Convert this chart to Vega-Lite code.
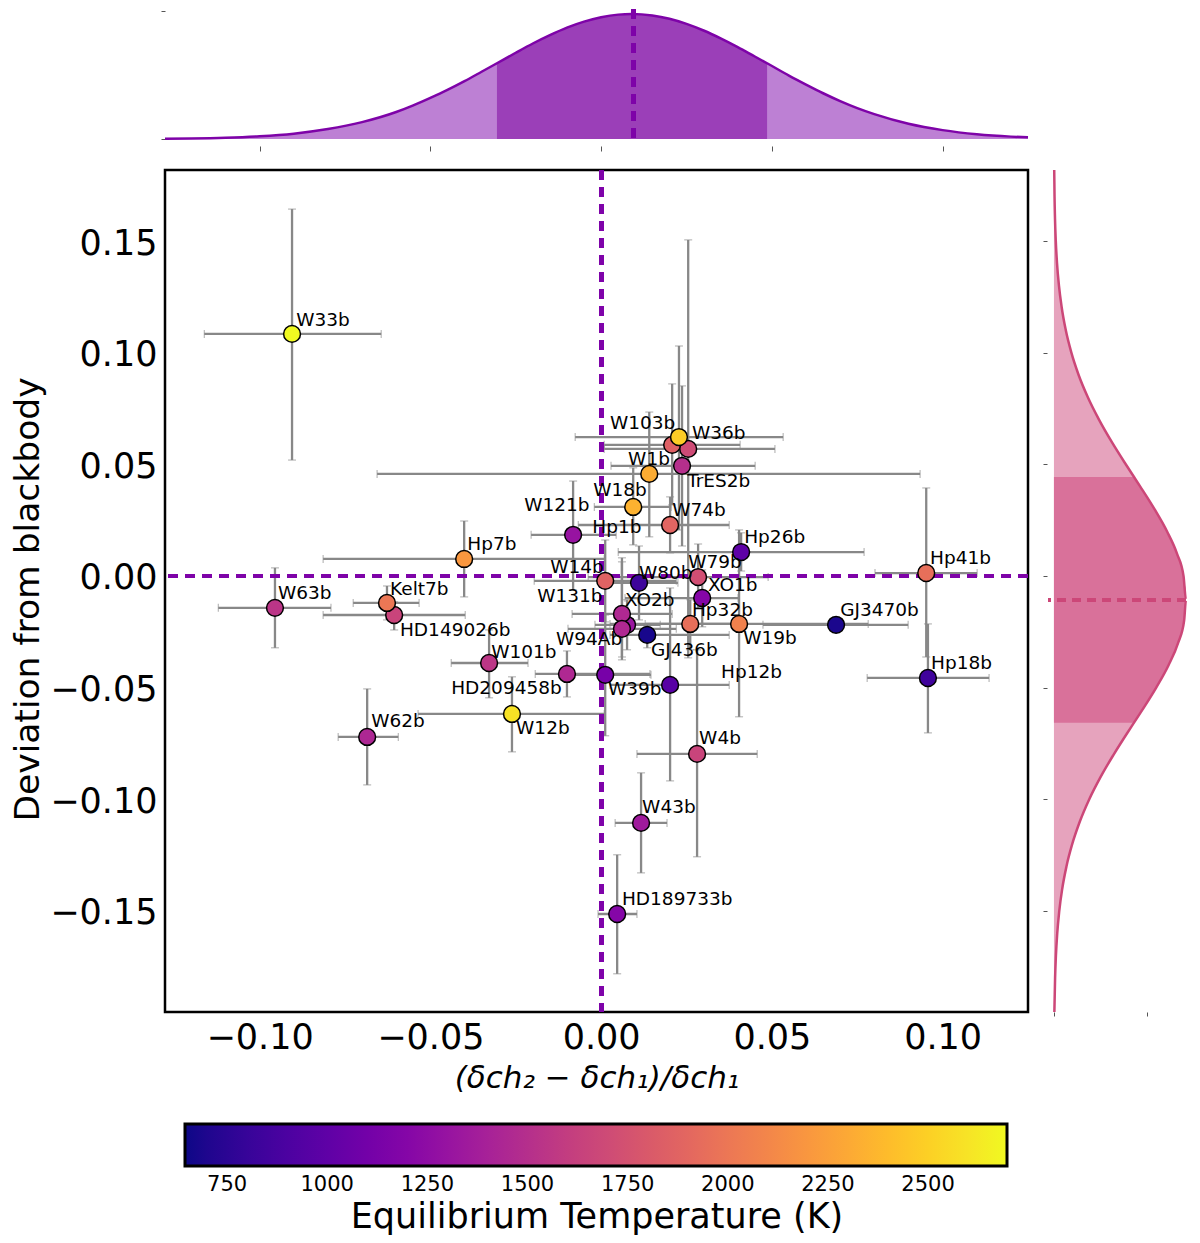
{
  "$schema": "https://vega.github.io/schema/vega-lite/v6.json",
  "background": "white",
  "padding": {"left": 9, "top": 7, "right": 5, "bottom": 5},
  "config": {"font": "DejaVu Sans"},
  "datasets": {
    "planets": [
      {"name":"W33b","x":-0.0905,"x_lo":-0.1162,"x_hi":-0.0644,"y":0.1084,"y_lo":0.0519,"y_hi":0.1643,"temp":2695,"label_x":-0.0893,"label_y":0.1146},
      {"name":"W94Ab","x":0.0208,"x_lo":0.0009,"x_hi":0.0407,"y":0.0587,"y_lo":0.0318,"y_hi":0.0860,"temp":1850,"label_x":-0.0132,"label_y":-0.0282},
      {"name":"W36b","x":0.0255,"x_lo":0.0009,"x_hi":0.0509,"y":0.0569,"y_lo":-0.0367,"y_hi":0.1505,"temp":1700,"label_x":0.0266,"label_y":0.0640},
      {"name":"W103b","x":0.0228,"x_lo":-0.0076,"x_hi":0.0533,"y":0.0622,"y_lo":0.0206,"y_hi":0.1030,"temp":2480,"label_x":0.0026,"label_y":0.0685},
      {"name":"TrES2b","x":0.0237,"x_lo":0.0029,"x_hi":0.0451,"y":0.0493,"y_lo":0.0134,"y_hi":0.0851,"temp":1500,"label_x":0.0252,"label_y":0.0425},
      {"name":"W1b","x":0.0141,"x_lo":-0.0656,"x_hi":0.0934,"y":0.0457,"y_lo":0.0175,"y_hi":0.0734,"temp":2320,"label_x":0.0079,"label_y":0.0524},
      {"name":"W18b","x":0.0094,"x_lo":-0.0020,"x_hi":0.0205,"y":0.0309,"y_lo":0.0139,"y_hi":0.0484,"temp":2350,"label_x":-0.0023,"label_y":0.0385},
      {"name":"W74b","x":0.0202,"x_lo":-0.0067,"x_hi":0.0375,"y":0.0228,"y_lo":0.0103,"y_hi":0.0354,"temp":1880,"label_x":0.0208,"label_y":0.0296},
      {"name":"W121b","x":-0.0082,"x_lo":-0.0205,"x_hi":0.0044,"y":0.0184,"y_lo":-0.0063,"y_hi":0.0425,"temp":1300,"label_x":-0.0225,"label_y":0.0318},
      {"name":"Hp26b","x":0.0410,"x_lo":0.0050,"x_hi":0.0770,"y":0.0107,"y_lo":0.0022,"y_hi":0.0193,"temp":990,"label_x":0.0419,"label_y":0.0175},
      {"name":"Hp7b","x":-0.0401,"x_lo":-0.0814,"x_hi":0.0009,"y":0.0076,"y_lo":-0.0094,"y_hi":0.0246,"temp":2200,"label_x":-0.0392,"label_y":0.0143},
      {"name":"W14b","x":0.0012,"x_lo":-0.0196,"x_hi":0.0220,"y":-0.0022,"y_lo":-0.0206,"y_hi":0.0161,"temp":1870,"label_x":-0.0149,"label_y":0.0040},
      {"name":"W80b","x":0.0111,"x_lo":-0.0003,"x_hi":0.0225,"y":-0.0031,"y_lo":-0.0197,"y_hi":0.0134,"temp":830,"label_x":0.0111,"label_y":0.0013},
      {"name":"Hp1b","x":0.0076,"x_lo":-0.0018,"x_hi":0.0173,"y":-0.0219,"y_lo":-0.0331,"y_hi":-0.0107,"temp":1320,"label_x":-0.0026,"label_y":0.0219},
      {"name":"W131b","x":0.0061,"x_lo":-0.0085,"x_hi":0.0208,"y":-0.0170,"y_lo":-0.0376,"y_hi":0.0063,"temp":1450,"label_x":-0.0187,"label_y":-0.0090},
      {"name":"XO2b","x":0.0061,"x_lo":-0.0097,"x_hi":0.0220,"y":-0.0237,"y_lo":-0.0363,"y_hi":0.0081,"temp":1450,"label_x":0.0070,"label_y":-0.0107},
      {"name":"XO1b","x":0.0296,"x_lo":0.0070,"x_hi":0.0401,"y":-0.0099,"y_lo":-0.0228,"y_hi":0.0027,"temp":1200,"label_x":0.0313,"label_y":-0.0040},
      {"name":"W79b","x":0.0284,"x_lo":-0.0038,"x_hi":0.0489,"y":-0.0005,"y_lo":-0.0143,"y_hi":0.0143,"temp":1720,"label_x":0.0255,"label_y":0.0063},
      {"name":"Hp32b","x":0.0261,"x_lo":0.0129,"x_hi":0.0392,"y":-0.0215,"y_lo":-0.0331,"y_hi":-0.0107,"temp":1950,"label_x":0.0266,"label_y":-0.0152},
      {"name":"W19b","x":0.0404,"x_lo":0.0026,"x_hi":0.0782,"y":-0.0215,"y_lo":-0.0631,"y_hi":0.0206,"temp":2070,"label_x":0.0416,"label_y":-0.0278},
      {"name":"GJ3470b","x":0.0688,"x_lo":0.0474,"x_hi":0.0899,"y":-0.0219,"y_lo":-0.0255,"y_hi":-0.0184,"temp":690,"label_x":0.0700,"label_y":-0.0152},
      {"name":"GJ436b","x":0.0135,"x_lo":0.0026,"x_hi":0.0375,"y":-0.0264,"y_lo":-0.0322,"y_hi":-0.0219,"temp":680,"label_x":0.0146,"label_y":-0.0331},
      {"name":"W39b","x":0.0012,"x_lo":-0.0100,"x_hi":0.0146,"y":-0.0443,"y_lo":-0.0716,"y_hi":-0.0175,"temp":1120,"label_x":0.0020,"label_y":-0.0506},
      {"name":"Hp12b","x":0.0202,"x_lo":0.0026,"x_hi":0.0375,"y":-0.0488,"y_lo":-0.0918,"y_hi":-0.0054,"temp":960,"label_x":0.0351,"label_y":-0.0430},
      {"name":"W4b","x":0.0281,"x_lo":0.0105,"x_hi":0.0457,"y":-0.0797,"y_lo":-0.1258,"y_hi":-0.0331,"temp":1650,"label_x":0.0287,"label_y":-0.0725},
      {"name":"Hp18b","x":0.0957,"x_lo":0.0779,"x_hi":0.1136,"y":-0.0457,"y_lo":-0.0703,"y_hi":-0.0215,"temp":840,"label_x":0.0966,"label_y":-0.0390},
      {"name":"Hp41b","x":0.0952,"x_lo":0.0802,"x_hi":0.1101,"y":0.0013,"y_lo":-0.0363,"y_hi":0.0394,"temp":1950,"label_x":0.0963,"label_y":0.0081},
      {"name":"W43b","x":0.0117,"x_lo":0.0041,"x_hi":0.0193,"y":-0.1106,"y_lo":-0.1330,"y_hi":-0.0882,"temp":1350,"label_x":0.0120,"label_y":-0.1034},
      {"name":"HD189733b","x":0.0047,"x_lo":-0.0009,"x_hi":0.0105,"y":-0.1514,"y_lo":-0.1782,"y_hi":-0.1249,"temp":1200,"label_x":0.0061,"label_y":-0.1446},
      {"name":"W63b","x":-0.0955,"x_lo":-0.1121,"x_hi":-0.0791,"y":-0.0143,"y_lo":-0.0322,"y_hi":0.0036,"temp":1540,"label_x":-0.0946,"label_y":-0.0076},
      {"name":"HD149026b","x":-0.0606,"x_lo":-0.0814,"x_hi":-0.0398,"y":-0.0175,"y_lo":-0.0242,"y_hi":-0.0116,"temp":1650,"label_x":-0.0589,"label_y":-0.0242},
      {"name":"Kelt7b","x":-0.0627,"x_lo":-0.0726,"x_hi":-0.0533,"y":-0.0121,"y_lo":-0.0197,"y_hi":-0.0045,"temp":2000,"label_x":-0.0618,"label_y":-0.0058},
      {"name":"W101b","x":-0.0328,"x_lo":-0.0439,"x_hi":-0.0214,"y":-0.0390,"y_lo":-0.0546,"y_hi":-0.0242,"temp":1550,"label_x":-0.0322,"label_y":-0.0340},
      {"name":"HD209458b","x":-0.0100,"x_lo":-0.0193,"x_hi":0.0143,"y":-0.0439,"y_lo":-0.0542,"y_hi":-0.0336,"temp":1450,"label_x":-0.0439,"label_y":-0.0502},
      {"name":"W12b","x":-0.0261,"x_lo":-0.0536,"x_hi":0.0009,"y":-0.0618,"y_lo":-0.0788,"y_hi":-0.0452,"temp":2590,"label_x":-0.0249,"label_y":-0.0681},
      {"name":"W62b","x":-0.0685,"x_lo":-0.0770,"x_hi":-0.0594,"y":-0.0721,"y_lo":-0.0936,"y_hi":-0.0506,"temp":1440,"label_x":-0.0673,"label_y":-0.0649}
    ],
    "top_curve": [
      {"x":-0.1277,"density":0.0027},{"x":-0.12,"density":0.0048},{"x":-0.11,"density":0.0107},{"x":-0.10,"density":0.0222},
      {"x":-0.09,"density":0.0429},{"x":-0.08,"density":0.0794},{"x":-0.07,"density":0.135},{"x":-0.06,"density":0.216},
      {"x":-0.055,"density":0.269},{"x":-0.05,"density":0.329},{"x":-0.045,"density":0.393},{"x":-0.04,"density":0.463},
      {"x":-0.035,"density":0.538},{"x":-0.0305,"density":0.606},{"x":-0.025,"density":0.69},{"x":-0.02,"density":0.764},
      {"x":-0.015,"density":0.831},{"x":-0.01,"density":0.891},{"x":-0.005,"density":0.939},{"x":0,"density":0.974},
      {"x":0.005,"density":0.995},{"x":0.009,"density":1},{"x":0.015,"density":0.988},{"x":0.02,"density":0.962},
      {"x":0.025,"density":0.921},{"x":0.03,"density":0.868},{"x":0.035,"density":0.805},{"x":0.04,"density":0.735},
      {"x":0.045,"density":0.66},{"x":0.0486,"density":0.606},{"x":0.055,"density":0.507},{"x":0.06,"density":0.435},
      {"x":0.065,"density":0.366},{"x":0.07,"density":0.303},{"x":0.075,"density":0.247},{"x":0.08,"density":0.199},
      {"x":0.09,"density":0.122},{"x":0.10,"density":0.071},{"x":0.11,"density":0.038},{"x":0.12,"density":0.019},
      {"x":0.125,"density":0.0133}
    ],
    "right_curve": [
      {"y":0.1818,"density":0.0021},{"y":0.17,"density":0.0045},{"y":0.16,"density":0.0081},{"y":0.15,"density":0.014},
      {"y":0.14,"density":0.0234},{"y":0.13,"density":0.038},{"y":0.12,"density":0.0594},{"y":0.11,"density":0.0899},
      {"y":0.10,"density":0.1319},{"y":0.09,"density":0.187},{"y":0.08,"density":0.2567},{"y":0.07,"density":0.341},
      {"y":0.06,"density":0.4377},{"y":0.05,"density":0.5437},{"y":0.0443,"density":0.6065},{"y":0.04,"density":0.6537},
      {"y":0.03,"density":0.7604},{"y":0.02,"density":0.8558},{"y":0.01,"density":0.9317},{"y":0,"density":0.9812},
      {"y":-0.0107,"density":1},{"y":-0.02,"density":0.9858},{"y":-0.03,"density":0.9403},{"y":-0.04,"density":0.8677},
      {"y":-0.05,"density":0.7745},{"y":-0.06,"density":0.6692},{"y":-0.0657,"density":0.6065},{"y":-0.07,"density":0.559},
      {"y":-0.08,"density":0.4522},{"y":-0.09,"density":0.3536},{"y":-0.10,"density":0.2675},{"y":-0.11,"density":0.1961},
      {"y":-0.12,"density":0.1389},{"y":-0.13,"density":0.0951},{"y":-0.14,"density":0.0631},{"y":-0.15,"density":0.0404},
      {"y":-0.16,"density":0.0251},{"y":-0.17,"density":0.0151},{"y":-0.18,"density":0.0088},{"y":-0.1953,"density":0.0033}
    ]
  },
  "vconcat": [
    {
      "width": 863,
      "height": 136,
      "view": {"stroke": null},
      "data": {"name": "top_curve"},
      "layer": [
        {
          "mark": {"type": "area", "color": "#bd80d4", "interpolate": "monotone"},
          "encoding": {
            "x": {
              "field": "x", "type": "quantitative",
              "scale": {"domain": [-0.1277, 0.125], "nice": false, "zero": false},
              "axis": {"values": [-0.1, -0.05, 0, 0.05, 0.1], "labels": false, "domain": false, "grid": false, "title": null, "tickSize": 5, "tickColor": "#555555", "offset": 1}
            },
            "y": {
              "field": "density", "type": "quantitative",
              "scale": {"domain": [-0.048, 1.04], "nice": false},
              "axis": {"values": [0, 1.024], "labels": false, "domain": false, "grid": false, "title": null, "tickSize": 4, "tickColor": "#555555"}
            }
          }
        },
        {
          "transform": [{"filter": {"field": "x", "range": [-0.0305, 0.0486]}}],
          "mark": {"type": "area", "color": "#9b3fb8", "interpolate": "monotone"},
          "encoding": {
            "x": {"field": "x", "type": "quantitative"},
            "y": {"field": "density", "type": "quantitative"}
          }
        },
        {
          "mark": {"type": "line", "color": "#7e03a8", "strokeWidth": 2.5, "interpolate": "monotone"},
          "encoding": {
            "x": {"field": "x", "type": "quantitative"},
            "y": {"field": "density", "type": "quantitative"}
          }
        },
        {
          "mark": {"type": "rule", "color": "#7e03a8", "strokeWidth": 4, "strokeDash": [10, 7]},
          "encoding": {"x": {"datum": 0.0095}}
        }
      ]
    },
    {
      "spacing": 20,
      "bounds": "flush",
      "hconcat": [
        {
          "width": 863,
          "height": 842,
          "view": {"stroke": "black", "strokeWidth": 2.5},
          "data": {"name": "planets"},
          "layer": [
            {
              "mark": {"type": "errorbar", "ticks": {"size": 8, "color": "#888888", "strokeWidth": 1.5}, "rule": {"color": "#888888", "strokeWidth": 2.3}},
              "encoding": {
                "x": {
                  "field": "x_lo", "type": "quantitative",
                  "title": "(δch₂ − δch₁)/δch₁",
                  "scale": {"domain": [-0.1277, 0.125], "nice": false, "zero": false},
                  "axis": {"values": [-0.1, -0.05, 0, 0.05, 0.1], "format": ".2f", "grid": false, "domain": false, "ticks": false, "labelFontSize": 35, "labelColor": "black", "labelPadding": 8, "titleFontSize": 31, "titleFontStyle": "italic", "titleFontWeight": "normal", "titleColor": "black", "titlePadding": 8}
                },
                "x2": {"field": "x_hi"},
                "y": {
                  "field": "y", "type": "quantitative",
                  "title": "Deviation from blackbody",
                  "scale": {"domain": [-0.1953, 0.1818], "nice": false, "zero": false},
                  "axis": {"values": [-0.15, -0.1, -0.05, 0, 0.05, 0.1, 0.15], "format": ".2f", "grid": false, "domain": false, "ticks": false, "labelFontSize": 35, "labelColor": "black", "labelPadding": 8, "labelOffset": 2, "titleFontSize": 34.5, "titleFontWeight": "normal", "titleColor": "black", "titlePadding": 4, "titleY": 429}
                }
              }
            },
            {
              "mark": {"type": "errorbar", "ticks": {"size": 8, "color": "#888888", "strokeWidth": 1.5}, "rule": {"color": "#888888", "strokeWidth": 2.3}},
              "encoding": {
                "x": {"field": "x", "type": "quantitative", "title": "(δch₂ − δch₁)/δch₁"},
                "y": {"field": "y_lo", "type": "quantitative", "title": "Deviation from blackbody"},
                "y2": {"field": "y_hi"}
              }
            },
            {
              "mark": {"type": "rule", "color": "#7e03a8", "strokeWidth": 4, "strokeDash": [10, 7]},
              "encoding": {"x": {"datum": 0}}
            },
            {
              "mark": {"type": "rule", "color": "#7e03a8", "strokeWidth": 4, "strokeDash": [10, 7]},
              "encoding": {"y": {"datum": 0}}
            },
            {
              "mark": {"type": "point", "filled": true, "size": 283, "opacity": 1, "stroke": "black", "strokeWidth": 1.5},
              "encoding": {
                "x": {"field": "x", "type": "quantitative", "title": "(δch₂ − δch₁)/δch₁"},
                "y": {"field": "y", "type": "quantitative", "title": "Deviation from blackbody"},
                "fill": {
                  "field": "temp", "type": "quantitative",
                  "scale": {"scheme": "plasma", "domain": [645, 2697], "nice": false},
                  "legend": {
                    "orient": "none", "legendX": 20, "legendY": 1115, "direction": "horizontal",
                    "gradientLength": 822, "gradientThickness": 42,
                    "gradientStrokeColor": "black", "gradientStrokeWidth": 3,
                    "values": [750, 1000, 1250, 1500, 1750, 2000, 2250, 2500],
                    "format": "d",
                    "labelFontSize": 21, "labelColor": "black", "labelOverlap": false, "labelOffset": 8,
                    "title": "Equilibrium Temperature (K)", "titleOrient": "bottom", "titleAnchor": "middle",
                    "titleFontSize": 35, "titleFontWeight": "normal", "titleColor": "black", "titlePadding": 5, "titleLimit": 700
                  }
                }
              }
            },
            {
              "mark": {"type": "text", "align": "left", "baseline": "middle", "fontSize": 18.5, "color": "black"},
              "encoding": {
                "x": {"field": "label_x", "type": "quantitative", "title": "(δch₂ − δch₁)/δch₁"},
                "y": {"field": "label_y", "type": "quantitative", "title": "Deviation from blackbody"},
                "text": {"field": "name", "type": "nominal"}
              }
            }
          ]
        },
        {
          "width": 138,
          "height": 842,
          "view": {"stroke": null},
          "data": {"name": "right_curve"},
          "layer": [
            {
              "mark": {"type": "area", "orient": "horizontal", "color": "#e6a3bd", "interpolate": "monotone"},
              "encoding": {
                "x": {
                  "field": "density", "type": "quantitative",
                  "scale": {"domain": [-0.045, 1], "nice": false},
                  "axis": {"values": [0, 0.705], "labels": false, "domain": false, "grid": false, "title": null, "tickSize": 4, "tickColor": "#555555"}
                },
                "y": {
                  "field": "y", "type": "quantitative",
                  "scale": {"domain": [-0.1953, 0.1818], "nice": false, "zero": false},
                  "axis": {"values": [-0.15, -0.1, -0.05, 0, 0.05, 0.1, 0.15], "labels": false, "domain": false, "grid": false, "title": null, "tickSize": 4, "tickColor": "#555555", "offset": 1}
                }
              }
            },
            {
              "transform": [{"filter": {"field": "y", "range": [-0.0657, 0.0443]}}],
              "mark": {"type": "area", "orient": "horizontal", "color": "#d9719a", "interpolate": "monotone"},
              "encoding": {
                "x": {"field": "density", "type": "quantitative"},
                "y": {"field": "y", "type": "quantitative"}
              }
            },
            {
              "mark": {"type": "line", "orient": "horizontal", "color": "#cc4778", "strokeWidth": 2.5, "interpolate": "monotone"},
              "encoding": {
                "x": {"field": "density", "type": "quantitative"},
                "y": {"field": "y", "type": "quantitative"}
              }
            },
            {
              "mark": {"type": "rule", "color": "#cc4778", "strokeWidth": 3.5, "strokeDash": [9, 6]},
              "encoding": {"y": {"datum": -0.0107}}
            }
          ]
        }
      ]
    }
  ],
  "spacing": 25,
  "bounds": "flush"
}
